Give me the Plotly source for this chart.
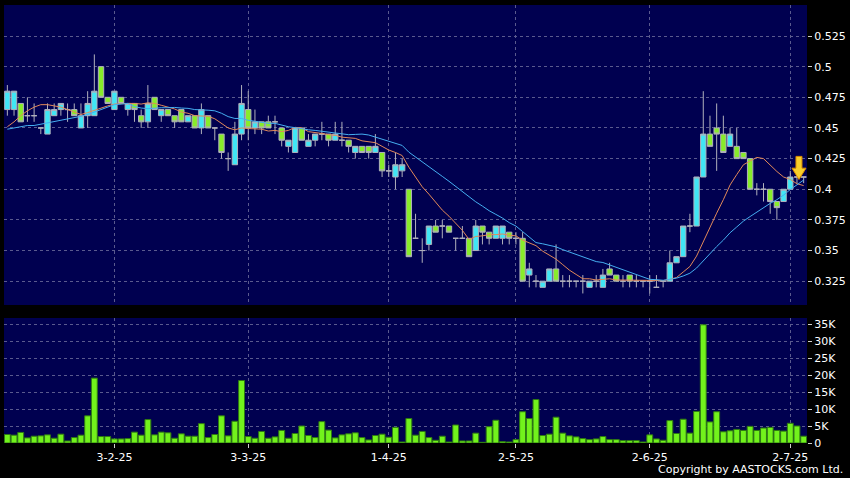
import pandas as pd
import numpy as np
import plotly.graph_objects as go

# ---------------- data ----------------
holidays = ["2025-01-29", "2025-01-30", "2025-01-31", "2025-04-04", "2025-04-18",
            "2025-04-21", "2025-05-01", "2025-05-05", "2025-07-01"]
dates = [d for d in pd.bdate_range("2025-01-07", "2025-07-04")
         if d.strftime("%Y-%m-%d") not in holidays]

tick_labels = ["3-2-25", "3-3-25", "1-4-25", "2-5-25", "2-6-25", "2-7-25"]

open_ = [0.465, 0.465, 0.47, 0.46, 0.46, 0.45, 0.445, 0.46, 0.465, 0.465,
         0.465, 0.45, 0.46, 0.46, 0.50, 0.475, 0.465, 0.475, 0.465, 0.47,
         0.46, 0.455, 0.475, 0.46, 0.465, 0.46, 0.465, 0.455, 0.46, 0.45,
         0.46, 0.45, 0.445, 0.425, 0.42, 0.445, 0.465, 0.45, 0.455, 0.455,
         0.455, 0.45, 0.435, 0.43, 0.45, 0.435, 0.44, 0.445, 0.445, 0.44,
         0.44, 0.44, 0.43, 0.435, 0.435, 0.43, 0.43, 0.415, 0.41, 0.415,
         0.40, 0.36, 0.35, 0.355, 0.37, 0.37, 0.37, 0.36, 0.36, 0.36,
         0.35, 0.37, 0.365, 0.36, 0.36, 0.365, 0.36, 0.36, 0.33, 0.325,
         0.32, 0.325, 0.335, 0.325, 0.325, 0.325, 0.325, 0.32, 0.325, 0.32,
         0.335, 0.33, 0.325, 0.33, 0.325, 0.325, 0.325, 0.32, 0.325, 0.325,
         0.34, 0.345, 0.37, 0.37, 0.41, 0.445, 0.45, 0.445, 0.435, 0.435,
         0.43, 0.425, 0.40, 0.40, 0.40, 0.39, 0.39, 0.40, 0.41, 0.41]
high = [0.485, 0.48, 0.47, 0.475, 0.47, 0.45, 0.47, 0.47, 0.47, 0.47,
        0.47, 0.47, 0.48, 0.51, 0.50, 0.475, 0.48, 0.475, 0.47, 0.47,
        0.465, 0.485, 0.475, 0.465, 0.465, 0.46, 0.465, 0.46, 0.46, 0.47,
        0.46, 0.45, 0.445, 0.43, 0.455, 0.485, 0.48, 0.465, 0.455, 0.46,
        0.46, 0.45, 0.44, 0.45, 0.45, 0.445, 0.445, 0.455, 0.445, 0.455,
        0.455, 0.44, 0.435, 0.435, 0.435, 0.445, 0.43, 0.42, 0.43, 0.425,
        0.40, 0.38, 0.36, 0.37, 0.375, 0.375, 0.37, 0.36, 0.37, 0.36,
        0.375, 0.37, 0.365, 0.37, 0.37, 0.365, 0.365, 0.365, 0.34, 0.33,
        0.325, 0.335, 0.355, 0.33, 0.33, 0.325, 0.33, 0.325, 0.33, 0.335,
        0.34, 0.33, 0.33, 0.33, 0.33, 0.325, 0.33, 0.33, 0.325, 0.35,
        0.345, 0.37, 0.38, 0.41, 0.48, 0.46, 0.47, 0.46, 0.45, 0.45,
        0.43, 0.425, 0.405, 0.405, 0.40, 0.39, 0.40, 0.415, 0.415, 0.41]
low = [0.46, 0.46, 0.455, 0.455, 0.455, 0.445, 0.445, 0.46, 0.46, 0.455,
       0.46, 0.45, 0.45, 0.46, 0.475, 0.47, 0.465, 0.47, 0.46, 0.455,
       0.45, 0.45, 0.465, 0.455, 0.46, 0.45, 0.455, 0.455, 0.45, 0.445,
       0.45, 0.44, 0.425, 0.415, 0.42, 0.44, 0.44, 0.445, 0.445, 0.45,
       0.445, 0.435, 0.43, 0.43, 0.44, 0.435, 0.435, 0.44, 0.435, 0.44,
       0.435, 0.43, 0.425, 0.43, 0.425, 0.43, 0.41, 0.41, 0.40, 0.41,
       0.345, 0.36, 0.34, 0.35, 0.365, 0.36, 0.365, 0.35, 0.36, 0.345,
       0.35, 0.355, 0.355, 0.36, 0.355, 0.355, 0.355, 0.325, 0.32, 0.32,
       0.32, 0.325, 0.325, 0.32, 0.32, 0.32, 0.315, 0.32, 0.32, 0.32,
       0.33, 0.325, 0.32, 0.32, 0.32, 0.32, 0.315, 0.32, 0.32, 0.325,
       0.34, 0.345, 0.365, 0.37, 0.41, 0.435, 0.415, 0.43, 0.435, 0.425,
       0.425, 0.40, 0.395, 0.39, 0.38, 0.375, 0.39, 0.40, 0.405, 0.405]
close = [0.48, 0.48, 0.455, 0.46, 0.46, 0.45, 0.465, 0.465, 0.47, 0.465,
         0.46, 0.46, 0.47, 0.48, 0.475, 0.47, 0.48, 0.47, 0.47, 0.465,
         0.455, 0.47, 0.465, 0.465, 0.46, 0.455, 0.455, 0.46, 0.45, 0.465,
         0.45, 0.45, 0.43, 0.425, 0.445, 0.47, 0.45, 0.455, 0.45, 0.45,
         0.455, 0.44, 0.44, 0.45, 0.44, 0.44, 0.445, 0.445, 0.44, 0.445,
         0.44, 0.435, 0.435, 0.43, 0.43, 0.435, 0.415, 0.415, 0.42, 0.42,
         0.345, 0.36, 0.35, 0.37, 0.365, 0.37, 0.365, 0.36, 0.36, 0.345,
         0.37, 0.365, 0.36, 0.37, 0.37, 0.36, 0.36, 0.325, 0.335, 0.325,
         0.325, 0.335, 0.325, 0.325, 0.325, 0.325, 0.325, 0.325, 0.325, 0.33,
         0.33, 0.325, 0.325, 0.325, 0.325, 0.325, 0.325, 0.32, 0.325, 0.34,
         0.345, 0.37, 0.37, 0.41, 0.445, 0.435, 0.445, 0.43, 0.445, 0.425,
         0.425, 0.40, 0.40, 0.40, 0.39, 0.385, 0.40, 0.41, 0.41, 0.41]
volume_k = [2.5, 2.3, 3.1, 1.5, 2.0, 2.1, 2.4, 1.4, 2.6, 0.6,
            1.6, 2.3, 8.0, 19.1, 1.9, 1.9, 1.2, 1.2, 1.3, 3.2,
            2.3, 6.9, 2.4, 3.2, 3.0, 1.4, 2.7, 2.0, 2.0, 5.7,
            1.6, 2.5, 8.0, 2.1, 6.4, 18.4, 1.9, 1.4, 3.4, 1.4,
            1.8, 3.7, 1.4, 2.8, 5.0, 2.2, 1.6, 6.3, 3.8, 1.5,
            2.4, 2.7, 3.0, 1.6, 0.9, 2.2, 2.6, 1.7, 4.6, 0.3,
            7.2, 2.3, 3.4, 1.6, 0.8, 2.0, 0.3, 5.3, 0.6, 0.6,
            2.9, 0.2, 4.8, 6.7, 0.4, 0.3, 1.0, 9.2, 7.2, 12.8,
            2.2, 2.6, 7.6, 2.9, 2.1, 1.8, 1.3, 1.0, 1.2, 1.9,
            1.0, 1.0, 0.7, 0.7, 0.7, 0.3, 2.4, 1.2, 0.8, 6.6,
            2.8, 7.0, 2.9, 9.3, 34.8, 6.2, 9.2, 3.3, 3.6, 4.0,
            3.7, 4.9, 3.7, 4.4, 4.6, 3.7, 3.5, 5.8, 5.0, 2.0]

# moving-average values read off the chart where the window is not yet full
ma10_lead = [0.451, 0.455, 0.46, 0.464, 0.467, 0.469, 0.469, 0.468, 0.467]
ma20_lead = [0.449, 0.450, 0.451, 0.452, 0.452, 0.453, 0.454, 0.455, 0.456, 0.457,
             0.458, 0.4595, 0.461, 0.463, 0.465, 0.467, 0.469, 0.4695, 0.47]

price_ticks = [0.325, 0.35, 0.375, 0.4, 0.425, 0.45, 0.475, 0.5, 0.525]
vol_ticks_k = [0, 5, 10, 15, 20, 25, 30, 35]

# ---------------- derived ----------------
n = len(dates)
x = list(range(n))
cs = pd.Series(close)
ma10 = cs.rolling(10).mean().to_numpy()
ma10[:len(ma10_lead)] = ma10_lead
ma20 = cs.rolling(20).mean().to_numpy()
ma20[:len(ma20_lead)] = ma20_lead

date_lbl = [f"{d.day}-{d.month}-{d.strftime('%y')}" for d in dates]
tick_idx = [date_lbl.index(t) for t in tick_labels]

CYAN = "#40e6f5"
GREEN = "#88ec2a"
WICK = "#b0b0bc"
NAVY = "#000050"
GRID = "#5a5a8e"
FONT = dict(family="DejaVu Sans", size=11, color="#ffffff")

fig = go.Figure()
fig.add_trace(go.Candlestick(
    x=x, open=open_, high=high, low=low, close=close,
    xaxis="x", yaxis="y",
    increasing=dict(fillcolor=CYAN, line=dict(color=WICK, width=1)),
    decreasing=dict(fillcolor=GREEN, line=dict(color=WICK, width=1)),
    whiskerwidth=0, showlegend=False, hoverinfo="skip"))
fig.add_trace(go.Scatter(x=x, y=ma10, mode="lines", xaxis="x", yaxis="y",
                         line=dict(color="#e2895a", width=1), showlegend=False, hoverinfo="skip"))
fig.add_trace(go.Scatter(x=x, y=ma20, mode="lines", xaxis="x", yaxis="y",
                         line=dict(color="#45aef0", width=1), showlegend=False, hoverinfo="skip"))
fig.add_trace(go.Bar(x=x, y=[v * 1000 for v in volume_k], xaxis="x2", yaxis="y2",
                     marker=dict(color="#72f21c", line=dict(color="#2f7a12", width=1)),
                     width=0.88, showlegend=False, hoverinfo="skip"))

# yellow arrow marking the latest price
tip_x = n - 1.7
tip_y = close[-1] - 0.002
hw, sw = 1.05, 0.45
head_h, shaft_h = 0.0092, 0.0188
path = (f"M {tip_x},{tip_y} L {tip_x-hw},{tip_y+head_h} L {tip_x-sw},{tip_y+head_h} "
        f"L {tip_x-sw},{tip_y+shaft_h} L {tip_x+sw},{tip_y+shaft_h} L {tip_x+sw},{tip_y+head_h} "
        f"L {tip_x+hw},{tip_y+head_h} Z")
fig.add_shape(type="path", path=path, xref="x", yref="y",
              fillcolor="#f8cf2a", line=dict(color="#d98a00", width=1))

xcommon = dict(range=[-0.5, n - 0.5], tickvals=tick_idx, showgrid=True, gridcolor=GRID,
               griddash="3px,3px", gridwidth=1, zeroline=False, showline=False)
fig.update_layout(
    width=850, height=478,
    margin=dict(l=4, r=43, t=5, b=35),
    paper_bgcolor="#000000", plot_bgcolor=NAVY,
    font=FONT, boxgap=0.2, boxgroupgap=0,
    xaxis=dict(domain=[0, 1], anchor="y", showticklabels=False, ticks="",
               rangeslider=dict(visible=False), **xcommon),
    yaxis=dict(domain=[0.3151, 1], range=[0.3056, 0.5503], side="right",
               tickvals=price_ticks, ticktext=[f"{v:g}" for v in price_ticks],
               ticks="outside", ticklen=4, tickcolor="#cfcfcf",
               showgrid=True, gridcolor=GRID, griddash="3px,3px", zeroline=False),
    xaxis2=dict(domain=[0, 1], anchor="y2", ticktext=tick_labels, ticks="outside",
                ticklen=4, tickcolor="#cfcfcf", **xcommon),
    yaxis2=dict(domain=[0, 0.2854], range=[0, 36800], side="right",
                tickvals=[v * 1000 for v in vol_ticks_k],
                ticktext=[f"{v}K" if v else "0" for v in vol_ticks_k],
                ticks="outside", ticklen=4, tickcolor="#cfcfcf",
                showgrid=True, gridcolor=GRID, griddash="3px,3px", zeroline=False),
    annotations=[dict(text="Copyright by AASTOCKS.com Ltd.", xref="paper", yref="paper",
                      x=1.0473, y=-0.0616, xanchor="right", yanchor="middle",
                      showarrow=False, font=dict(family="DejaVu Sans", size=11, color="#ffffff"))],
)

fig.write_html("out.html", config={"displayModeBar": False},
               post_script="document.body.style.margin='0';document.body.style.background='#000';")
